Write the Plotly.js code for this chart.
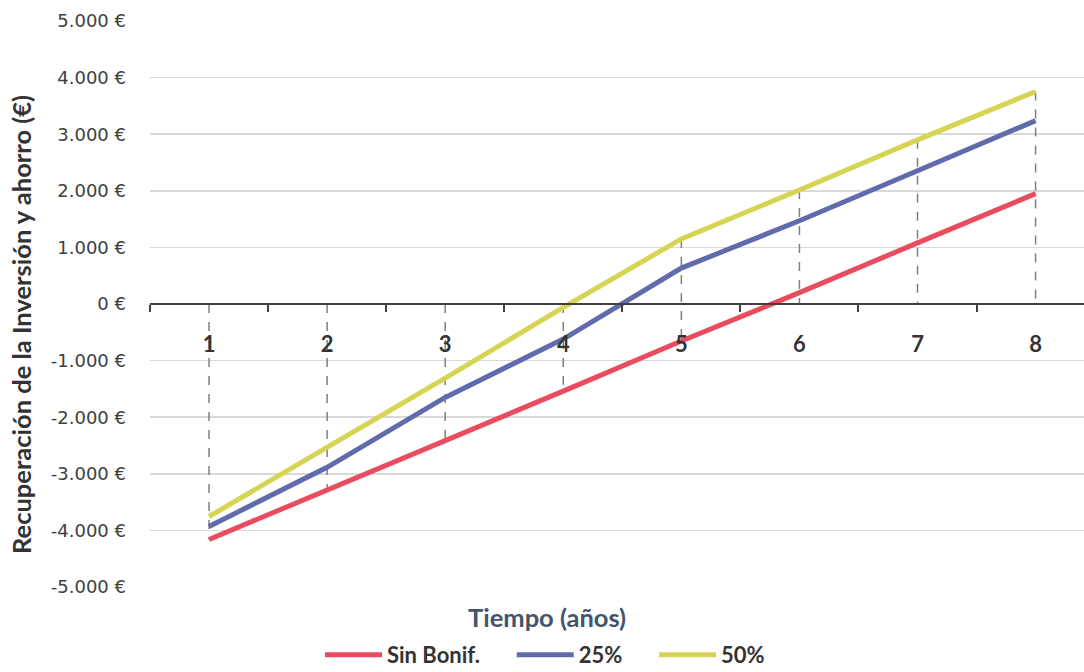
<!DOCTYPE html>
<html>
<head>
<meta charset="utf-8">
<script src="https://cdn.plot.ly/plotly-3.0.1.min.js"></script>
<style>html,body{margin:0;padding:0;background:#fff;}#chart{width:1084px;height:672px;}</style>
</head>
<body>
<div id="chart"></div>
<script>
const categories = ['1','2','3','4','5','6','7','8'];
const sinBonif = [-4160, -3290, -2410, -1540, -655, 200, 1080, 1950];
const bonif25 = [-3930, -2885, -1650, -620, 635, 1470, 2355, 3240];
const bonif50 = [-3755, -2535, -1310, -60, 1150, 2015, 2900, 3755];
const seriesNames = ['Sin Bonif.', '25%', '50%'];
const seriesColors = ['#E94B5F', '#5F6BAA', '#D5D553'];
const yTickVals = [-5000, -4000, -3000, -2000, -1000, 0, 1000, 2000, 3000, 4000, 5000];
const yTickText = ['-5.000 €', '-4.000 €', '-3.000 €', '-2.000 €', '-1.000 €', '0 €', '1.000 €', '2.000 €', '3.000 €', '4.000 €', '5.000 €'];

const allSeries = [sinBonif, bonif25, bonif50];
const pad = '\u00a0'.repeat(5);

// drop lines from axis to extreme points of each category
const dropX = [], dropY = [];
categories.forEach((c, i) => {
  const vals = allSeries.map(s => s[i]);
  dropX.push(c, c, null);
  dropY.push(Math.max(0, ...vals), Math.min(0, ...vals), null);
});

const traces = [{
  x: dropX, y: dropY, type: 'scatter', mode: 'lines',
  line: {color: '#7f7f7f', width: 1.5, dash: 'dash'},
  showlegend: false, hoverinfo: 'skip', connectgaps: false
}];
allSeries.forEach((s, k) => {
  traces.push({
    x: categories, y: s, type: 'scatter', mode: 'lines',
    name: k < allSeries.length - 1 ? seriesNames[k] + pad : seriesNames[k],
    line: {color: seriesColors[k], width: 5}
  });
});

const PW = 934, PH = 566;
const layout = {
  width: 1084, height: 672,
  margin: {l: 150, r: 0, t: 21, b: 85, autoexpand: false},
  paper_bgcolor: '#fff', plot_bgcolor: '#fff',
  font: {family: 'Lato, "Liberation Sans", sans-serif', color: '#404040'},
  xaxis: {
    type: 'category', range: [-0.5, 7.41],
    anchor: 'free', position: 0.5,
    showline: true, linecolor: '#404040', linewidth: 2,
    ticks: 'outside', tickson: 'boundaries', ticklen: 7, tickwidth: 2, tickcolor: '#404040',
    ticklabelstandoff: 21,
    showgrid: false, zeroline: false,
    tickfont: {family: 'Lato, sans-serif', size: 22, color: '#333333', weight: 'bold'}
  },
  yaxis: {
    range: [-5000, 5000], tickvals: yTickVals, ticktext: yTickText,
    showgrid: true, gridcolor: '#d9d9d9', gridwidth: 1.5, zeroline: false,
    ticks: '', ticklabelstandoff: 23,
    tickfont: {family: '"DejaVu Sans", sans-serif', size: 18, color: '#404040'}
  },
  annotations: [{
    text: 'Recuperación de la Inversión y ahorro (€)', xref: 'paper', yref: 'paper',
    x: (21 - 150) / PW, y: (587 - 325) / PH, xanchor: 'center', yanchor: 'middle',
    textangle: -90, showarrow: false,
    font: {family: 'Lato, sans-serif', size: 25.5, color: '#333333', weight: 'bold'}
  }, {
    text: 'Tiempo (años)', xref: 'paper', yref: 'paper',
    x: (547 - 150) / PW, y: -(617 - 587) / PH, xanchor: 'center', yanchor: 'middle',
    showarrow: false,
    font: {family: 'Lato, sans-serif', size: 25.5, color: '#44546A', weight: 'bold'}
  }],
  legend: {
    orientation: 'h', x: (545 - 150) / PW, xanchor: 'center', y: -(655 - 587) / PH, yanchor: 'middle',
    itemwidth: 57, font: {family: 'Lato, sans-serif', size: 22, color: '#333333', weight: 'bold'},
    bgcolor: 'rgba(0,0,0,0)'
  },
  showlegend: true
};

Plotly.newPlot('chart', traces, layout, {displayModeBar: false, staticPlot: true});
</script>
</body>
</html>
